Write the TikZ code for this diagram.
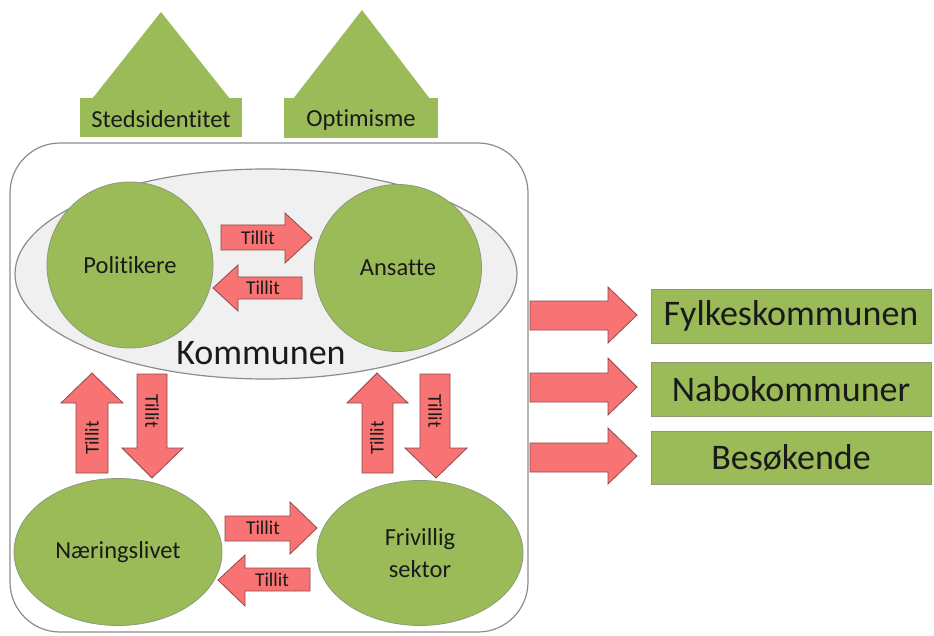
\documentclass[tikz,border=0pt]{standalone}
\usepackage{fontspec}
\usetikzlibrary{shapes.geometric}
\setmainfont{Carlito}[Ligatures={NoCommon}]
\definecolor{gfill}{HTML}{9BBB59}
\definecolor{gline}{HTML}{8A9A78}
\definecolor{rfill}{HTML}{F87373}
\definecolor{rline}{HTML}{8C4B4B}
\definecolor{efill}{HTML}{F0F0F0}
\definecolor{eline}{HTML}{8C8C8C}
\definecolor{tcol}{HTML}{1A1A1A}
\tikzset{
  greenshape/.style={fill=gfill, draw=gline, line width=0.8pt},
  circ/.style={fill=gfill, draw=gline, line width=0.8pt},
  redarrow/.style={fill=rfill, draw=rline, line width=0.8pt, line join=miter},
  tlabel/.style={font=\fontsize{19.5}{22}\selectfont, inner sep=0pt, text=tcol},
  clabel/.style={font=\fontsize{24.5}{32}\selectfont, align=center, inner sep=0pt, text=tcol},
  blabel/.style={font=\fontsize{36}{40}\selectfont, inner sep=0pt, text=tcol},
}
\begin{document}
\begin{tikzpicture}[x=1pt,y=-1pt]
\useasboundingbox (0,0) rectangle (934,636);
% house shapes
\fill[gfill] (92,99) -- (161,12) -- (230,99) -- cycle;
\fill[gfill] (80,98) rectangle (242,137);
\node[clabel] (sted) at (161,119) {Stedsidentitet};
\fill[gfill] (293,99) -- (362,10) -- (430,99) -- cycle;
\fill[gfill] (284,98) rectangle (438,138);
\node[clabel] (opt) at (361,120) {Optimisme};
% big rounded frame
\draw[eline, line width=1.2pt, rounded corners=50pt] (10,143) rectangle (528,632);
% kommunen ellipse
\draw[fill=efill, draw=eline, line width=1.2pt] (266,274) ellipse [x radius=251, y radius=105];
\node[blabel] (komm) at (261,353) {Kommunen};
% circles
\node[circ, circle, minimum size=166pt, inner sep=0pt] (pol) at (130,265) {};
\node[clabel] at (pol) {Politikere};
\node[circ, circle, minimum size=167pt, inner sep=0pt] (ans) at (398,268) {};
\node[clabel] at (ans) {Ansatte};
\node[circ, ellipse, minimum width=208pt, minimum height=147pt, inner sep=0pt] (naer) at (118,552) {};
\node[clabel] at (naer) {Næringslivet};
\node[circ, ellipse, minimum width=206pt, minimum height=145pt, inner sep=0pt] (friv) at (420,553) {};
\node[clabel] at (friv) {Frivillig\\sektor};
% horizontal Tillit arrows (top)
\draw[redarrow] (221,225) -- (285,225) -- (285,213) -- (312,238) -- (285,263) -- (285,250) -- (221,250) -- cycle;
\node[tlabel] (t1) at (258,238) {Tillit};
\draw[redarrow] (302,277) -- (238,277) -- (238,265) -- (213,288) -- (238,311) -- (238,299) -- (302,299) -- cycle;
\node[tlabel] (t2) at (263,288) {Tillit};
% vertical left
\draw[redarrow] (76,473) -- (76,403) -- (61,403) -- (92,373) -- (123,403) -- (108,403) -- (108,473) -- cycle;
\node[tlabel, rotate=90] (t3) at (92,438) {Tillit};
\draw[redarrow] (137,374) -- (167,374) -- (167,448) -- (183,448) -- (152,478) -- (122,448) -- (137,448) -- cycle;
\node[tlabel, rotate=-90] (t4) at (152,411) {Tillit};
% vertical right
\draw[redarrow] (362,473) -- (362,403) -- (347,403) -- (377,373) -- (408,403) -- (393,403) -- (393,473) -- cycle;
\node[tlabel, rotate=90] (t5) at (377,438) {Tillit};
\draw[redarrow] (420,374) -- (450,374) -- (450,448) -- (467,448) -- (436,478) -- (405,448) -- (420,448) -- cycle;
\node[tlabel, rotate=-90] (t6) at (435,411) {Tillit};
% bottom horizontal
\draw[redarrow] (225,516) -- (290,516) -- (290,502) -- (317,528) -- (290,554) -- (290,541) -- (225,541) -- cycle;
\node[tlabel] (t7) at (263,528) {Tillit};
\draw[redarrow] (310,568) -- (245,568) -- (245,555) -- (218,580) -- (245,606) -- (245,591) -- (310,591) -- cycle;
\node[tlabel] (t8) at (272,580) {Tillit};
% outward arrows
\draw[redarrow] (530,301) -- (608,301) -- (608,287) -- (637,315) -- (608,343) -- (608,330) -- (530,330) -- cycle;
\draw[redarrow] (530,373) -- (608,373) -- (608,358) -- (637,387) -- (608,415) -- (608,402) -- (530,402) -- cycle;
\draw[redarrow] (530,443) -- (608,443) -- (608,428) -- (637,456) -- (608,484) -- (608,472) -- (530,472) -- cycle;
% boxes
\node[greenshape, minimum width=280pt, minimum height=54pt, inner sep=0pt] (fyl) at (791,316) {};
\node[blabel] at (fyl) {Fylkeskommunen};
\node[greenshape, minimum width=280pt, minimum height=54pt, inner sep=0pt] (nabo) at (791,389) {};
\node[blabel] at (nabo) {Nabokommuner};
\node[greenshape, minimum width=280pt, minimum height=53pt, inner sep=0pt] (bes) at (791,458) {};
\node[blabel] at (bes) {Besøkende};
\end{tikzpicture}
\end{document}
